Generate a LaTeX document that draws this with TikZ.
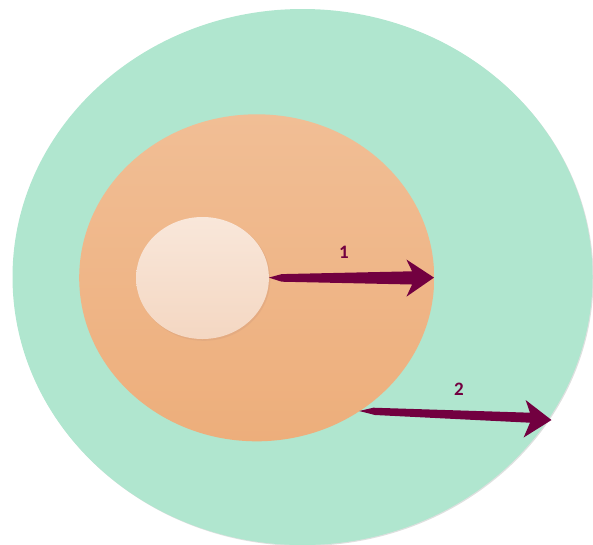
\documentclass[tikz,border=0pt]{standalone}
\usepackage{fontspec}
\newfontfamily\lblfont{Carlito}
\usetikzlibrary{shapes.geometric}
\definecolor{outergreen}{HTML}{B0E6CF}
\definecolor{outershadow}{HTML}{C8CCCA}
\definecolor{orangetop}{HTML}{F1BE95}
\definecolor{orangebot}{HTML}{EDAE7B}
\definecolor{coretop}{HTML}{F9E7DA}
\definecolor{corebot}{HTML}{F4D7C2}
\definecolor{coreshadow}{HTML}{D9A27E}
\definecolor{arrowcol}{HTML}{720040}
\tikzset{
  blob/.style={ellipse, inner sep=0pt, draw=none},
  blockarrow/.style={fill=arrowcol, draw=none},
  lbl/.style={text=arrowcol, font=\lblfont\bfseries\fontsize{19}{19}\selectfont, inner sep=0pt}
}
\begin{document}
\begin{tikzpicture}[x=1pt,y=-1pt]
\useasboundingbox (0,0) rectangle (593,544);
\clip (0,0) rectangle (593,544);
% outer green ellipse with faint shadow
\node[blob, fill=outershadow, opacity=0.6, minimum width=580pt, minimum height=536pt] (outersh) at (303.5,278) {};
\node[blob, fill=outergreen, minimum width=580pt, minimum height=536pt] (outer) at (302.5,277) {};
% orange ellipse
\node[blob, top color=orangetop, bottom color=orangebot, minimum width=355pt, minimum height=327pt] (mid) at (256.7,277.8) {};
% core shadow and core
\node[blob, fill=coreshadow, opacity=0.45, minimum width=133pt, minimum height=123pt] (coresh) at (203.8,279.3) {};
\node[blob, top color=coretop, bottom color=corebot, minimum width=132.8pt, minimum height=122pt] (core) at (202.5,278) {};
% arrow 1
\coordinate (a1tail) at (268.8,277.6);
\coordinate (a1tip) at (434,277.6);
\fill[blockarrow] (a1tail) -- (281.7,274.1) -- (412.1,271.3) -- (406.4,259.5) -- (a1tip)
  -- (406.4,296.7) -- (412.1,284.5) -- (281.7,281.7) -- cycle;
% arrow 2
\coordinate (a2tail) at (359.2,411);
\coordinate (a2tip) at (551.5,420);
\fill[blockarrow] (a2tail) -- (373.3,407.7) -- (530,412.7) -- (525.6,400) -- (a2tip)
  -- (523.6,437.5) -- (530,422.7) -- (375,415) -- cycle;
% labels
\node[lbl] (l1) at (344,252.5) {1};
\node[lbl] (l2) at (459,389.5) {2};
\end{tikzpicture}
\end{document}
